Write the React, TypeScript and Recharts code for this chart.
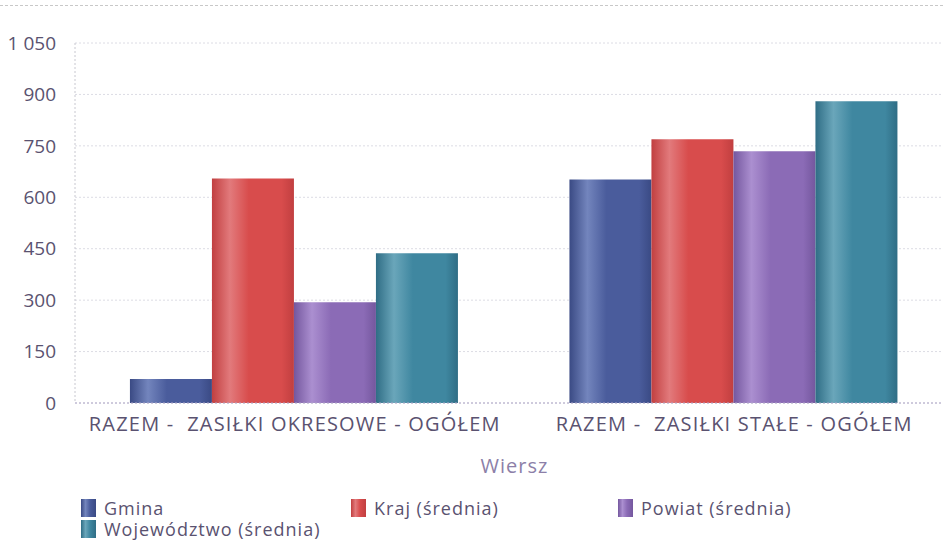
import { BarChart, Bar, XAxis, YAxis, CartesianGrid, Legend } from "recharts";

const categories = ["RAZEM -\u00a0 ZASIŁKI OKRESOWE - OGÓŁEM", "RAZEM -\u00a0 ZASIŁKI STAŁE - OGÓŁEM"];
const gmina = [70, 652];
const kraj = [655, 769];
const powiat = [294, 734];
const wojewodztwo = [437, 880];
const yTicks = [0, 150, 300, 450, 600, 750, 900, 1050];

const series = [
  { key: "gmina", name: "Gmina", values: gmina, base: "#4a5c9c", light: "#7385bd", dark: "#3a4a84" },
  { key: "kraj", name: "Kraj (średnia)", values: kraj, base: "#d84c4c", light: "#e27a7c", dark: "#c13f40" },
  { key: "powiat", name: "Powiat (średnia)", values: powiat, base: "#8b6bb6", light: "#ab8fd0", dark: "#74579e" },
  { key: "woj", name: "Województwo (średnia)", values: wojewodztwo, base: "#3f87a0", light: "#6aa6ba", dark: "#2f6d85" },
];

const data = categories.map((name, i) => {
  const row: any = { name };
  series.forEach((s) => (row[s.key] = s.values[i]));
  return row;
});

const font = "'Open Sans', 'DejaVu Sans', sans-serif";
const textColor = "#5a5270";
const legendCols = [0, 270, 537];

const fmt = (v: number) => String(v).replace(/\B(?=(\d{3})+(?!\d))/g, " ");

function LegendBox() {
  return (
    <div
      style={{ height: 60, position: "relative", fontFamily: font, fontSize: 18, letterSpacing: 1, color: textColor, lineHeight: "18px" }}
    >
      {series.map((s, i) => {
        const col = i % 3;
        const row = Math.floor(i / 3);
        return (
          <div
            key={s.key}
            style={{ position: "absolute", left: 81 + legendCols[col], top: 16 + row * 21, display: "flex", alignItems: "center" }}
          >
            <div
              style={{
                width: 15,
                height: 18,
                marginRight: 8,
                background: `linear-gradient(to right, ${s.dark}, ${s.light} 30%, ${s.base} 60%, ${s.dark})`,
              }}
            />
            <span style={{ whiteSpace: "nowrap" }}>{s.name}</span>
          </div>
        );
      })}
    </div>
  );
}

export default function App() {
  return (
    <div style={{ position: "absolute", left: 0, top: 0, width: 943, height: 544, overflow: "hidden", background: "#fff" }}>
      <div style={{ position: "absolute", left: 0, right: 0, top: 5, borderTop: "1px dashed #c8c8c8" }} />
      <BarChart
        width={960}
        height={544}
        data={data}
        margin={{ top: 43, right: 6, left: 0, bottom: 1 }}
        barCategoryGap="12.5%"
        barGap={0}
      >
        <defs>
          {series.map((s) => (
            <linearGradient key={s.key} id={`g-${s.key}`} x1="0" y1="0" x2="1" y2="0">
              <stop offset="0%" stopColor={s.dark} />
              <stop offset="22%" stopColor={s.light} />
              <stop offset="45%" stopColor={s.base} />
              <stop offset="85%" stopColor={s.base} />
              <stop offset="100%" stopColor={s.dark} />
            </linearGradient>
          ))}
        </defs>
        <CartesianGrid vertical={false} stroke="#dcdce4" strokeDasharray="2 2" />
        <XAxis
          dataKey="name"
          height={80}
          axisLine={{ stroke: "#b0a8c8", strokeDasharray: "2 2" }}
          tickLine={false}
          tick={{ fill: textColor, fontSize: 20, fontFamily: font, letterSpacing: 1.2 }}
          tickMargin={8}
          label={{ value: "Wiersz", position: "insideBottom", offset: 10, fill: "#8c7fa8", fontSize: 20, fontFamily: font, letterSpacing: 1 }}
        />
        <YAxis
          width={75}
          domain={[0, 1050]}
          ticks={yTicks}
          interval={0}
          tickFormatter={fmt}
          axisLine={{ stroke: "#c8c8d0", strokeDasharray: "2 2" }}
          tickLine={false}
          tickMargin={13}
          tick={{ fill: textColor, fontSize: 19, fontFamily: font }}
        />
        <Legend verticalAlign="bottom" content={() => <LegendBox />} />
        {series.map((s) => (
          <Bar key={s.key} dataKey={s.key} name={s.name} fill={`url(#g-${s.key})`} isAnimationActive={false} />
        ))}
      </BarChart>
    </div>
  );
}
